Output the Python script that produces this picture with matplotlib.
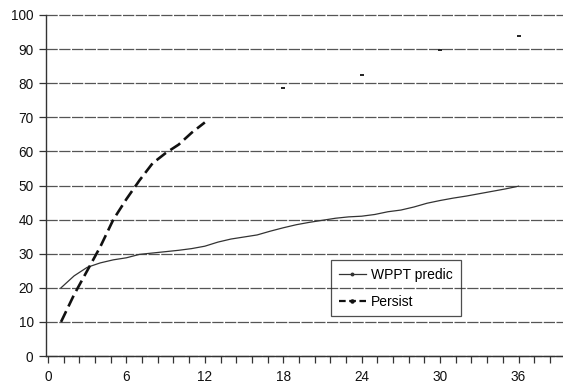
import matplotlib
matplotlib.use("Agg")
import matplotlib.pyplot as plt
import numpy as np
from matplotlib.ticker import MultipleLocator
from matplotlib.lines import Line2D

plt.rcParams['font.family'] = ['Liberation Sans', 'DejaVu Sans']

# Data
wppt_x = list(range(1, 37))
wppt_y = [20, 23.5, 26, 27.3, 28.2, 28.8, 29.8, 30.2, 30.6, 31.0, 31.5, 32.2,
          33.4, 34.3, 34.9, 35.5, 36.6, 37.6, 38.5, 39.2, 39.8, 40.4, 40.8, 41.0,
          41.5, 42.3, 42.8, 43.7, 44.8, 45.6, 46.3, 46.9, 47.6, 48.3, 49.0, 49.8]
persist_x = list(range(1, 13))
persist_y = [10, 18, 25, 32, 40, 46, 51.5, 56.5, 59.5, 62, 65.5, 68.5]
dots_x = [18, 24, 30, 36]
dots_y = [78.5, 82.5, 89.8, 93.9]
x_ticks = [0, 6, 12, 18, 24, 30, 36]
y_ticks = [0, 10, 20, 30, 40, 50, 60, 70, 80, 90, 100]
labels = ['WPPT predic', 'Persist']

fig = plt.figure(figsize=(5.63, 3.85), dpi=100)
ax = fig.add_axes([46/563, 29/385, 517/563, 341/385])

for yv in y_ticks:
    ax.axhline(yv, color='#555555', lw=0.9, ls=(0, (9, 1.2)), zorder=1, clip_on=False)

ax.plot(wppt_x, wppt_y, color='#333333', lw=0.9, zorder=3)
ax.plot(persist_x, persist_y, color='#111111', lw=1.9, ls=(0, (4.5, 2)), zorder=3)
ax.plot(dots_x, dots_y, ls='none', marker='_', markersize=2.5, mew=1.4, color='#222222', zorder=3)

ax.set_xlim(-0.15, 39.4)
ax.set_ylim(0, 100)
ax.set_xticks(x_ticks)
ax.xaxis.set_minor_locator(MultipleLocator(1.2))
ax.set_yticks(y_ticks)

for s in ['top', 'right']:
    ax.spines[s].set_visible(False)
for s in ['left', 'bottom']:
    ax.spines[s].set_color('#333333')
    ax.spines[s].set_linewidth(1.0)

ax.tick_params(axis='both', which='both', direction='out', length=5, width=0.9,
               color='#333333', labelsize=9.8, labelcolor='#111111')
ax.tick_params(axis='x', pad=5)
ax.tick_params(axis='y', pad=4)

handles = [
    Line2D([], [], color='#333333', lw=0.9, marker='o', markersize=1.8),
    Line2D([], [], color='#111111', lw=1.6, ls=(0, (3, 1.6)), marker='o', markersize=2.2),
]
leg = ax.legend(handles, labels, loc='upper left', bbox_to_anchor=(0.551, 0.2815), fontsize=10,
                frameon=True, fancybox=False, edgecolor='#222222', facecolor='none',
                handlelength=2.0, handletextpad=0.35, labelspacing=0.95,
                borderpad=0.55, borderaxespad=0)
leg.get_frame().set_linewidth(0.9)

fig.savefig('out.png', dpi=100)
